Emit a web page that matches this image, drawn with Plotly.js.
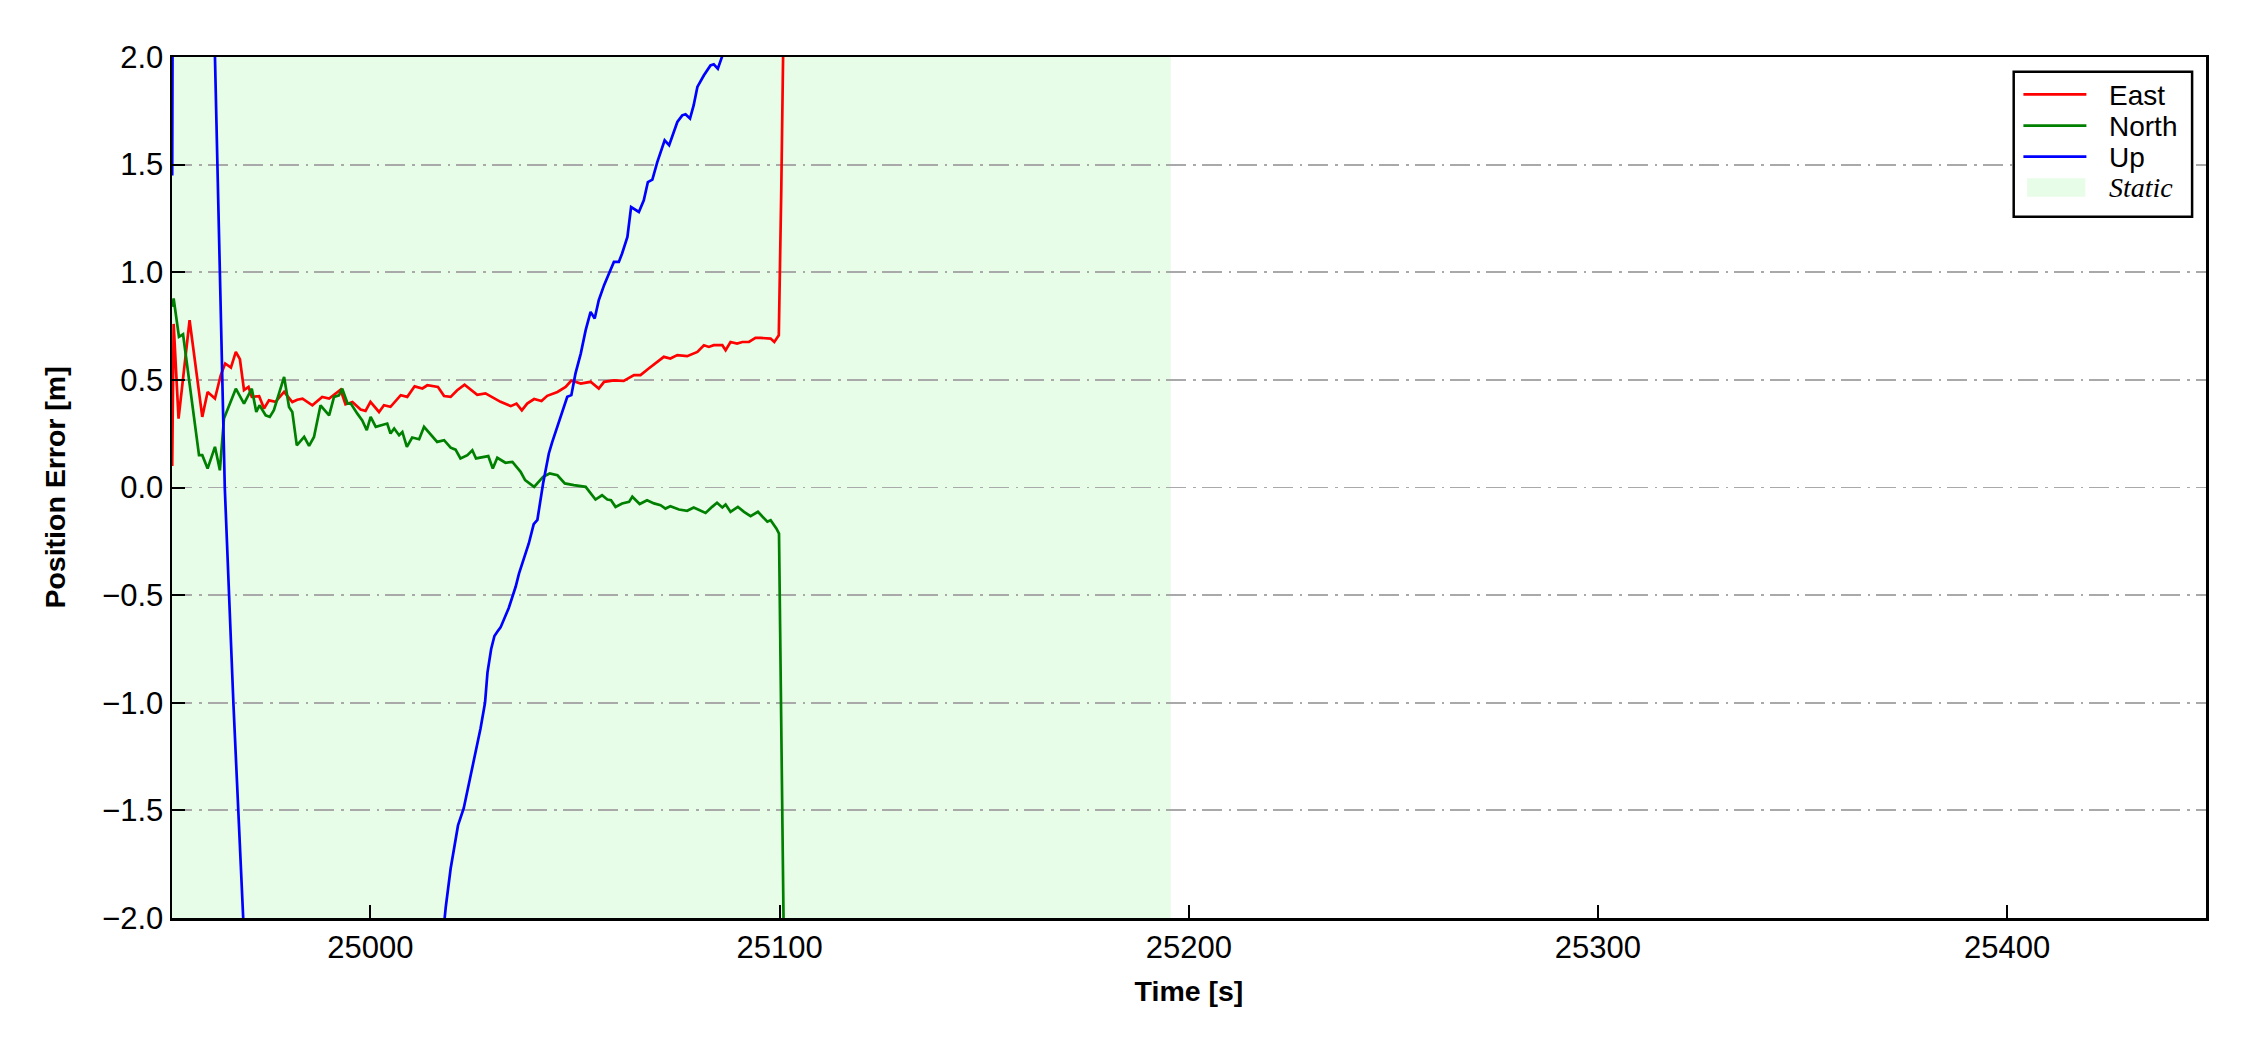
<!DOCTYPE html>
<html><head><meta charset="utf-8">
<script src="https://cdn.plot.ly/plotly-3.0.1.min.js"></script>
<style>html,body{margin:0;padding:0;background:#fff}#chart{width:2250px;height:1050px}</style>
</head><body><div id="chart"></div>
<script>
// ---- data ----
const tEast = [24951.55,24951.9,24953.1,24955.8,24958.9,24960.2,24962.0,24963.4,24964.5,24965.9,24967.1,24968.1,24969.1,24970.2,24971.0,24972.8,24974.0,24975.2,24976.8,24978.3,24978.9,24980.9,24982.1,24983.4,24985.8,24988.2,24989.9,24992.7,24993.9,24995.6,24997.6,24998.8,25000.0,25002.1,25003.3,25004.9,25007.4,25009.0,25010.8,25012.7,25013.9,25016.5,25018.0,25019.6,25021.2,25023.0,25026.1,25028.1,25030.6,25031.8,25034.3,25035.7,25037.0,25038.3,25040.0,25041.8,25043.2,25045.7,25047.7,25049.1,25051.4,25053.8,25055.8,25057.1,25059.5,25061.9,25064.4,25066.0,25068.0,25071.7,25073.3,25075.0,25077.4,25079.9,25081.5,25082.7,25083.9,25086.0,25086.8,25088.0,25089.6,25090.9,25092.5,25094.1,25095.3,25097.8,25098.7,25099.8,25100.4,25102.0];
const vEast = [0.10,0.76,0.32,0.777,0.328,0.444,0.413,0.521,0.576,0.557,0.63,0.596,0.452,0.467,0.421,0.424,0.367,0.405,0.398,0.428,0.444,0.397,0.408,0.413,0.382,0.421,0.413,0.454,0.386,0.397,0.362,0.356,0.398,0.351,0.382,0.375,0.429,0.421,0.47,0.46,0.475,0.467,0.425,0.421,0.452,0.478,0.431,0.437,0.41,0.398,0.378,0.39,0.359,0.39,0.411,0.402,0.426,0.444,0.467,0.497,0.483,0.491,0.46,0.491,0.498,0.495,0.522,0.522,0.553,0.607,0.599,0.615,0.61,0.63,0.661,0.653,0.661,0.661,0.638,0.676,0.669,0.676,0.676,0.695,0.695,0.692,0.676,0.707,1.38,3.6];

const tNorth = [24951.6,24951.9,24953.2,24954.2,24958.1,24958.9,24960.2,24962.0,24963.2,24964.2,24967.1,24969.1,24971.0,24972.1,24972.9,24974.4,24975.4,24976.4,24978.9,24980.1,24980.9,24982.0,24983.8,24985.0,24986.2,24987.8,24989.9,24991.1,24992.3,24993.1,24994.4,24995.2,24996.8,24998.0,24999.1,25000.05,25001.3,25002.5,25004.1,25004.9,25005.8,25007.0,25007.8,25008.9,25010.2,25011.9,25013.1,25016.3,25018.0,25019.6,25020.8,25022.0,25023.7,25024.9,25025.8,25028.8,25029.9,25031.0,25033.0,25034.7,25036.7,25037.8,25040.0,25042.2,25043.8,25045.7,25047.5,25049.7,25052.6,25055.0,25056.6,25057.9,25058.8,25059.9,25061.5,25063.2,25064.0,25065.8,25067.6,25069.3,25070.9,25072.1,25073.3,25075.4,25077.4,25079.0,25081.9,25083.5,25084.7,25086.0,25086.8,25088.0,25089.8,25091.3,25092.9,25094.7,25097.0,25097.8,25099.2,25099.85,25102.0];
const vNorth = [0.84,0.878,0.70,0.712,0.15,0.15,0.088,0.189,0.08,0.32,0.459,0.39,0.459,0.351,0.382,0.335,0.328,0.359,0.514,0.374,0.351,0.196,0.235,0.193,0.235,0.382,0.335,0.421,0.428,0.459,0.39,0.39,0.343,0.312,0.266,0.328,0.282,0.289,0.297,0.251,0.274,0.243,0.258,0.189,0.232,0.224,0.282,0.212,0.22,0.185,0.176,0.135,0.15,0.173,0.135,0.146,0.088,0.138,0.115,0.119,0.073,0.034,0.003,0.05,0.065,0.057,0.019,0.011,0.003,-0.056,-0.036,-0.056,-0.059,-0.09,-0.074,-0.067,-0.043,-0.077,-0.059,-0.074,-0.082,-0.098,-0.087,-0.102,-0.108,-0.093,-0.118,-0.09,-0.071,-0.093,-0.079,-0.113,-0.09,-0.113,-0.133,-0.113,-0.159,-0.152,-0.19,-0.214,-3.7];

const tUp = [24951.55,24952.6,24962.0,24963.2,24964.4,24966.5,24968.9,24975.0,24990.0,25005.0,25014.0,25018.4,25019.6,25020.8,25021.4,25022.8,25024.9,25026.9,25028.0,25028.6,25029.5,25030.3,25031.0,25031.8,25033.8,25035.5,25036.3,25038.7,25039.9,25040.8,25042.2,25043.6,25044.4,25046.1,25047.3,25048.1,25049.1,25050.1,25051.4,25052.6,25053.8,25054.8,25055.8,25057.1,25058.3,25059.5,25060.7,25061.5,25062.8,25063.7,25065.6,25066.8,25067.8,25068.9,25070.1,25071.9,25073.0,25075.0,25076.2,25077.0,25078.1,25079.0,25079.9,25081.5,25083.1,25083.9,25084.9,25085.9,25088.0,25100.0];
const vUp = [1.45,9.0,2.0,1.0,0.0,-1.0,-2.0,-4.0,-5.5,-4.5,-2.8,-1.95,-1.77,-1.625,-1.57,-1.49,-1.30,-1.12,-1.0,-0.86,-0.75,-0.69,-0.67,-0.65,-0.56,-0.46,-0.40,-0.26,-0.17,-0.15,0.02,0.158,0.21,0.305,0.37,0.421,0.429,0.529,0.622,0.731,0.816,0.785,0.87,0.94,0.994,1.048,1.048,1.087,1.164,1.303,1.28,1.334,1.419,1.43,1.512,1.613,1.59,1.698,1.729,1.734,1.714,1.776,1.861,1.915,1.961,1.966,1.946,2.0,2.3,4.0];

const staticInterval = [24951.5, 25195.6];
const xRange = [24951.5, 25448.6];
const yRange = [-2, 2];
const yTickVals = [-2, -1.5, -1, -0.5, 0, 0.5, 1, 1.5, 2];
const yTickText = ['\u22122.0','\u22121.5','\u22121.0','\u22120.5','0.0','0.5','1.0','1.5','2.0'];
const seriesNames = ['East', 'North', 'Up'];
const staticName = 'Static';
const xTitle = 'Time [s]';
const yTitle = 'Position Error [m]';

// ---- styles ----
const colors = ['#ff0000', '#008000', '#0000ff'];
const staticColor = '#e8fde8';
const SANS = 'Liberation Sans, Arial, Helvetica, sans-serif';
const SERIF = 'Liberation Serif, Times New Roman, serif';
const LW = 2.7;

const series = [[tEast, vEast], [tNorth, vNorth], [tUp, vUp]];
const traces = series.map((s, i) => ({
  type: 'scatter', mode: 'lines', name: seriesNames[i],
  x: s[0], y: s[1],
  line: {color: colors[i], width: LW},
  hoverinfo: 'skip', showlegend: false
}));

// manual legend (pixel offsets from top-right of plot area)
const legRows = [-37.3, -68.7, -99.7, -130.5];
const shapes = [
  {type: 'rect', xref: 'x', yref: 'paper', x0: staticInterval[0], x1: staticInterval[1], y0: 0, y1: 1,
   fillcolor: staticColor, line: {width: 0}, layer: 'below'},
  {type: 'rect', xref: 'paper', yref: 'paper', xsizemode: 'pixel', ysizemode: 'pixel', xanchor: 1, yanchor: 1,
   x0: -192.3, x1: -13.9, y0: -14.7, y1: -159.7, fillcolor: '#ffffff', line: {color: '#000', width: 2.5}, layer: 'above'}
];
for (let i = 0; i < 3; i++) {
  shapes.push({type: 'line', xref: 'paper', yref: 'paper', xsizemode: 'pixel', ysizemode: 'pixel', xanchor: 1, yanchor: 1,
    x0: -182.6, x1: -119.6, y0: legRows[i], y1: legRows[i], line: {color: colors[i], width: LW}, layer: 'above'});
}
shapes.push({type: 'rect', xref: 'paper', yref: 'paper', xsizemode: 'pixel', ysizemode: 'pixel', xanchor: 1, yanchor: 1,
  x0: -178.9, x1: -120.6, y0: legRows[3] + 9.2, y1: legRows[3] - 9.2, fillcolor: staticColor, line: {width: 0}, layer: 'above'});

const annotations = [];
for (let i = 0; i < 3; i++) {
  annotations.push({xref: 'paper', yref: 'paper', x: 1, y: 1, xshift: -98.5, yshift: legRows[i] - 1, xanchor: 'left', yanchor: 'middle',
    text: seriesNames[i], showarrow: false, font: {family: SANS, size: 28, color: '#000'}, borderpad: 0});
}
annotations.push({xref: 'paper', yref: 'paper', x: 1, y: 1, xshift: -98.5, yshift: legRows[3], xanchor: 'left', yanchor: 'middle',
  text: staticName, showarrow: false, font: {family: SERIF, size: 28, color: '#000', style: 'italic'}, borderpad: 0});

const axisCommon = {
  showline: true, linecolor: '#000', linewidth: 2.5, mirror: true,
  ticks: 'inside', ticklen: 13, tickwidth: 2, tickcolor: '#000',
  zeroline: false, tickfont: {family: SANS, size: 31, color: '#000'}
};

const layout = {
  width: 2250, height: 1050,
  margin: {l: 172, r: 44, t: 57, b: 132, pad: 0},
  paper_bgcolor: '#ffffff', plot_bgcolor: '#ffffff',
  showlegend: false,
  font: {family: SANS, color: '#000'},
  xaxis: Object.assign({}, axisCommon, {
    range: xRange, tick0: 25000, dtick: 100, tickformat: 'd', showgrid: false,
    title: {text: xTitle, font: {family: SANS, size: 28.5, weight: 'bold', color: '#000'}, standoff: 18}
  }),
  yaxis: Object.assign({}, axisCommon, {
    range: yRange, tickmode: 'array', tickvals: yTickVals, ticktext: yTickText,
    showgrid: true, gridcolor: '#a9a9a9', gridwidth: 1.8, griddash: '20px,7px,2.5px,6px',
    title: {text: yTitle, font: {family: SANS, size: 28.5, weight: 'bold', color: '#000'}, standoff: 28}
  }),
  shapes: shapes,
  annotations: annotations
};

Plotly.newPlot('chart', traces, layout, {staticPlot: true, displayModeBar: false});
</script>
</body></html>
